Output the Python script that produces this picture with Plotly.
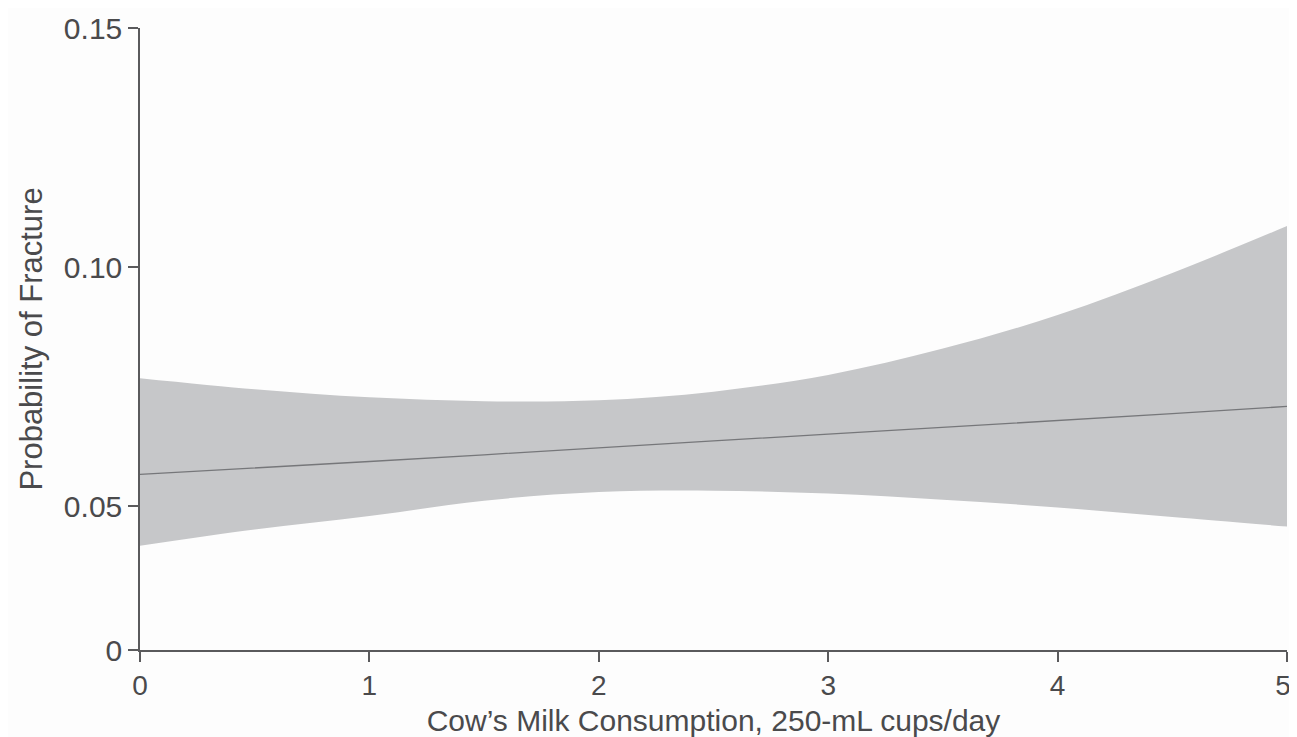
import plotly.graph_objects as go

# Data
milk_cups = [0, 0.5, 1, 1.5, 2, 2.5, 3, 3.5, 4, 4.5, 5]
prob_center = [0.0567, 0.0580, 0.0594, 0.0608, 0.0623, 0.0637, 0.0651, 0.0665, 0.0680, 0.0694, 0.0709]
prob_upper = [0.0768, 0.0745, 0.0728, 0.0720, 0.0722, 0.0740, 0.0775, 0.0830, 0.0900, 0.0988, 0.1086]
prob_lower = [0.0418, 0.0452, 0.0480, 0.0512, 0.0530, 0.0533, 0.0527, 0.0514, 0.0498, 0.0478, 0.0458]

y_tickvals = [0.02, 0.05, 0.10, 0.15]
y_ticktext = ["0", "0.05", "0.10", "0.15"]
x_tickvals = [0, 1, 2, 3, 4, 5]
x_ticktext = ["0", "1", "2", "3", "4", "5\u00a0"]

text_color = "#4a4a4c"
axis_color = "#5a5a5c"
font_family = "Liberation Sans, Arial, sans-serif"

fig = go.Figure()
fig.add_trace(go.Scatter(x=milk_cups, y=prob_upper, mode="lines", line=dict(width=0, shape="spline"),
                         hoverinfo="skip", showlegend=False))
fig.add_trace(go.Scatter(x=milk_cups, y=prob_lower, mode="lines", line=dict(width=0, shape="spline"),
                         fill="tonexty", fillcolor="#c6c7c9", hoverinfo="skip", showlegend=False))
fig.add_trace(go.Scatter(x=milk_cups, y=prob_center, mode="lines",
                         line=dict(color="#76777a", width=1.3), showlegend=False))

fig.update_layout(
    width=1289, height=729,
    margin=dict(l=132, r=10, t=20, b=87, autoexpand=False),
    paper_bgcolor="#fdfdfd", plot_bgcolor="#fdfdfd",
    font=dict(family=font_family, color=text_color),
    xaxis=dict(range=[0, 5], tickvals=x_tickvals, ticktext=x_ticktext,
               showgrid=False, zeroline=False,
               automargin=True, ticklabeloverflow="allow",
               showline=True, linecolor=axis_color, linewidth=1.5,
               ticks="outside", ticklen=10, tickcolor=axis_color, tickwidth=1.5,
               tickfont=dict(size=28, color=text_color),
               title=dict(text="Cow’s Milk Consumption, 250-mL cups/day",
                          font=dict(size=30, color=text_color), standoff=11)),
    yaxis=dict(range=[0.02, 0.15], tickvals=y_tickvals, ticktext=y_ticktext,
               showgrid=False, zeroline=False, automargin=True,
               showline=True, linecolor=axis_color, linewidth=1.5,
               ticks="outside", ticklen=10, tickcolor=axis_color, tickwidth=1.5,
               tickfont=dict(size=30, color=text_color),
               title=dict(text="Probability of Fracture",
                          font=dict(size=31, color=text_color), standoff=12)),
)

fig.write_html("out.html")
